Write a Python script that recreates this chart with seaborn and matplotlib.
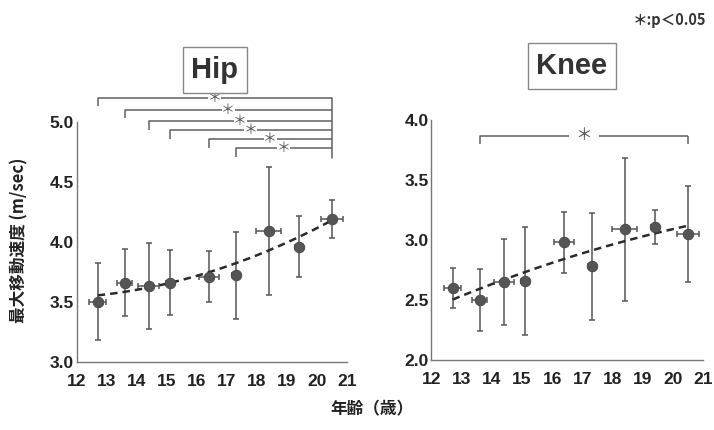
import numpy as np
import pandas as pd
import matplotlib
matplotlib.use('Agg')
import matplotlib.pyplot as plt
import seaborn as sns

# mean age of each group (years) and its SD
ages = [12.7, 13.6, 14.4, 15.1, 16.4, 17.3, 18.4, 19.4, 20.5]
age_sd = [0.28, 0.25, 0.34, 0.12, 0.33, 0.12, 0.42, 0.12, 0.37]

# peak velocity (m/sec), mean and SD
hip_mean = [3.50, 3.66, 3.63, 3.66, 3.71, 3.72, 4.09, 3.96, 4.19]
hip_sd = [0.32, 0.28, 0.36, 0.27, 0.215, 0.365, 0.53, 0.255, 0.16]
knee_mean = [2.60, 2.50, 2.65, 2.66, 2.98, 2.78, 3.09, 3.11, 3.05]
knee_sd = [0.17, 0.26, 0.36, 0.45, 0.255, 0.445, 0.595, 0.14, 0.40]

# significant pairs (group index left, right)
hip_pairs = [(0, 8), (1, 8), (2, 8), (3, 8), (4, 8), (5, 8)]
knee_pairs = [(1, 8)]

x_ticks = [12, 13, 14, 15, 16, 17, 18, 19, 20, 21]
hip_yticks = [3.0, 3.5, 4.0, 4.5, 5.0]
knee_yticks = [2.0, 2.5, 3.0, 3.5, 4.0]

sns.set_style('white')
plt.rcParams['font.family'] = ['Liberation Sans', 'Noto Sans CJK JP', 'DejaVu Sans']
cjk = ['Noto Sans CJK JP', 'DejaVu Sans']

fig = plt.figure(figsize=(7.14, 4.30), dpi=100)
ax_hip = fig.add_axes([0.1074, 0.1588, 0.3782, 0.5581])
ax_knee = fig.add_axes([0.6043, 0.1628, 0.3807, 0.5581])

dot = '#555555'


def panel(ax, mean, sd, yticks):
    df = pd.DataFrame({'age': ages, 'v': mean})
    ax.errorbar(ages, mean, yerr=sd, xerr=age_sd, fmt='none', ecolor=dot,
                elinewidth=1.1, capsize=2.5, capthick=1.1, zorder=2)
    # quadratic trend through the group means
    coef = np.polyfit(ages, mean, 2)
    xs = np.linspace(ages[0], ages[-1], 60)
    trend = pd.DataFrame({'age': xs, 'v': np.polyval(coef, xs)})
    sns.lineplot(data=trend, x='age', y='v', ax=ax, color='#2a2a2a', lw=1.8, zorder=3)
    ax.lines[-1].set_linestyle((0, (3, 2)))
    sns.scatterplot(data=df, x='age', y='v', ax=ax, s=58, color=dot,
                    edgecolor='#444444', linewidth=0.6, zorder=4)
    ax.set_xlim(12, 21)
    ax.set_ylim(yticks[0], yticks[-1])
    ax.set_xticks(x_ticks)
    ax.set_yticks(yticks)
    ax.set_yticklabels([f'{t:.1f}' for t in yticks])
    ax.set_xlabel('')
    ax.set_ylabel('')
    for s in ['top', 'right']:
        ax.spines[s].set_visible(False)
    for s in ['left', 'bottom']:
        ax.spines[s].set_color('#777777')
        ax.spines[s].set_linewidth(1.0)
    ax.tick_params(direction='in', length=4, width=0.9, color='#777777',
                   labelsize=12.5, labelcolor='#222222')
    ax.tick_params(axis='x', pad=9)
    ax.tick_params(axis='y', pad=2)
    for lab in ax.get_xticklabels() + ax.get_yticklabels():
        lab.set_fontweight('bold')
    ax.set_facecolor('none')


def bracket(ax, i, j, y, drop, gap, star_size, right_drop=True):
    x0, x1 = ages[i], ages[j]
    xm = (x0 + x1) / 2
    kw = dict(color='#606060', lw=1.1, clip_on=False, solid_capstyle='butt')
    ax.plot([x0, x0, xm - gap], [y - drop, y, y], **kw)
    ax.plot([xm + gap, x1], [y, y], **kw)
    if right_drop:
        ax.plot([x1, x1], [y, y - drop], **kw)
    ax.text(xm, y, '＊', ha='center', va='center', fontsize=star_size,
            color='#555555', family=cjk, clip_on=False)


panel(ax_hip, hip_mean, hip_sd, hip_yticks)
panel(ax_knee, knee_mean, knee_sd, knee_yticks)

hip_levels = [5.20, 5.10, 5.005, 4.93, 4.855, 4.78]
for (i, j), lev in zip(hip_pairs, hip_levels):
    bracket(ax_hip, i, j, lev, 0.07, 0.22, 10, right_drop=False)
ax_hip.plot([ages[8], ages[8]], [hip_levels[0], 4.70], color='#606060', lw=1.1, clip_on=False)

for i, j in knee_pairs:
    bracket(ax_knee, i, j, 3.87, 0.07, 0.5, 12)

box = dict(boxstyle='square,pad=0.3', fc='white', ec='#888888', lw=1.0)
fig.text(0.301, 0.837, 'Hip', ha='center', va='center', fontsize=21,
         fontweight='bold', color='#333333', bbox=box)
fig.text(0.801, 0.847, 'Knee', ha='center', va='center', fontsize=21,
         fontweight='bold', color='#333333', bbox=box)

fig.text(0.027, 0.44, '最大移動速度 (m/sec)', rotation=90, ha='center', va='center',
         fontsize=12, fontweight='bold', color='#222222', family=cjk)
fig.text(0.521, 0.047, '年齢（歳）', ha='center', va='center', fontsize=12,
         fontweight='bold', color='#222222', family=cjk)
fig.text(0.989, 0.953, '＊:p＜0.05', ha='right', va='center', fontsize=10.5,
         fontweight='bold', color='#333333', family=cjk)

fig.savefig('out.png', dpi=100)
plt.close(fig)
